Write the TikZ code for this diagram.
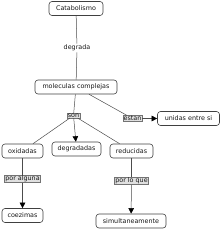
\documentclass[tikz,border=0pt]{standalone}
\usepackage{fontspec}
\setmainfont{DejaVu Sans}
\usetikzlibrary{arrows.meta}
\begin{document}
\begin{tikzpicture}[x=1pt,y=-1pt,
  concept/.style={draw=black!75,line width=0.6pt,rounded corners=3pt,fill=white,font=\fontsize{6.4}{7}\selectfont,inner sep=0pt,minimum height=14pt,text=black!90},
  linklbl/.style={draw=black!55,fill=black!12,font=\fontsize{6.4}{7}\selectfont,inner sep=0.6pt,text=black!90},
  plainlbl/.style={font=\fontsize{6.4}{7}\selectfont,text=black!90,fill=white,inner sep=1pt},
  conn/.style={draw=black!70,line width=0.5pt},
  arr/.style={conn,-{Triangle[length=5.5pt,width=5.5pt,fill=black,color=black]}}]
\useasboundingbox (0,0) rectangle (220,229);
\node[concept,minimum width=54pt] (cat) at (76,8.5) {Catabolismo};
\node[concept,minimum width=82pt] (mol) at (76,87) {moleculas complejas};
\node[concept,minimum width=62pt] (uni) at (188.5,118.5) {unidas entre si};
\node[concept,minimum width=41pt] (oxi) at (22.5,151) {oxidadas};
\node[concept,minimum width=49pt] (deg) at (76.5,149) {degradadas};
\node[concept,minimum width=43pt] (red) at (131.5,151) {reducidas};
\node[concept,minimum width=41pt] (coe) at (22.5,215.5) {coezimas};
\node[concept,minimum width=70pt] (sim) at (131,221) {simultaneamente};
\node[plainlbl] (degr) at (77,48) {degrada};
\node[linklbl] (son) at (73.5,115.5) {son};
\node[linklbl] (est) at (132.5,118.5) {estan};
\node[linklbl] (pal) at (22.5,179) {por alguna};
\node[linklbl] (plq) at (131.5,181) {por lo que};
\draw[conn] (cat) -- (degr);
\draw[conn] (degr) -- (mol);
\draw[conn] (mol) -- (son);
\draw[conn] (son) -- (oxi);
\draw[arr] (son) -- (deg);
\draw[conn] (son) -- (red);
\draw[conn] (mol) -- (est);
\draw[arr] (est) -- (uni);
\draw[conn] (oxi) -- (pal);
\draw[arr] (pal) -- (coe);
\draw[conn] (red) -- (plq);
\draw[arr] (plq) -- (sim);
\end{tikzpicture}
\end{document}
